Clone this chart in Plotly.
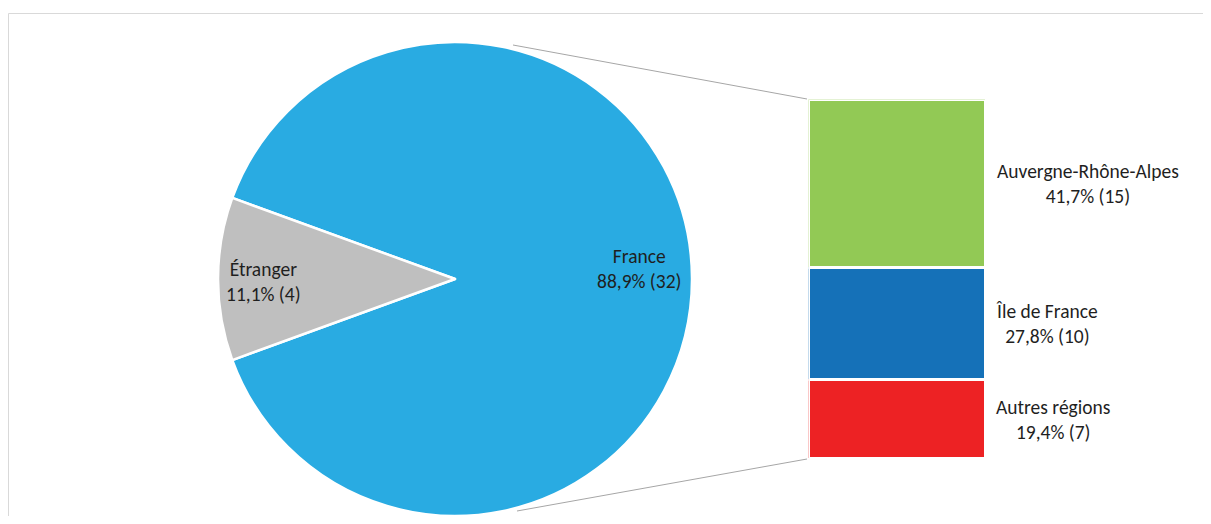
import plotly.graph_objects as go

# Data
pie_labels = ["France", "Étranger"]
pie_values = [32, 4]
region_labels = ["Autres régions", "Île de France", "Auvergne-Rhône-Alpes"]
region_values = [7, 10, 15]

pie_colors = ["#29ABE2", "#BFBFBF"]
region_colors = ["#ED2224", "#1571B8", "#92C955"]

OFF = 8  # default page body margin
W, H = 1211 - OFF, 524 - 2 * OFF
total = sum(pie_values)
FONT = "Carlito, Calibri, Lato, sans-serif"
FS = 19.5
TXT = "#1f1f1f"


def fmt(v):
    return f"{v / total * 100:.1f}".replace(".", ",") + f"% ({v})"


def px(x):
    return (x - OFF) / W


def py(y):
    return min(1.0, max(0.0, 1 - (y - OFF) / H))


fig = go.Figure()

# Pie (center 455,279, r 237)
cx, cy, r = 455, 279, 237
fig.add_trace(go.Pie(
    labels=pie_labels, values=pie_values, sort=False, direction="clockwise",
    rotation=290, textinfo="none", hoverinfo="label+value+percent",
    marker=dict(colors=pie_colors, line=dict(color="white", width=2.5)),
    domain=dict(x=[px(cx - r), px(cx + r)], y=[py(cy + r), py(cy - r)]),
    showlegend=False,
))

# Stacked bar
for lab, val, col in zip(region_labels, region_values, region_colors):
    fig.add_trace(go.Bar(
        x=[0], y=[val], name=lab, width=1,
        marker=dict(color=col, line=dict(color="white", width=2.5)),
        showlegend=False, hoverinfo="name+y",
    ))

bar_left, bar_right, bar_top, bar_bottom = 808.5, 985.5, 99.5, 458.5
fig.update_layout(
    width=W, height=H, margin=dict(l=0, r=0, t=0, b=0),
    paper_bgcolor="white", plot_bgcolor="rgba(0,0,0,0)",
    barmode="stack", bargap=0,
    xaxis=dict(domain=[px(bar_left), px(bar_right)], range=[-0.5, 0.5],
               visible=False, fixedrange=True),
    yaxis=dict(domain=[py(bar_bottom), py(bar_top)], range=[0, sum(region_values)],
               visible=False, fixedrange=True),
    font=dict(family=FONT, size=FS, color=TXT),
)

annotations = []
# Pie labels
pie_label_pos = [(639, 268), (263, 281)]
for lab, val, (x, y) in zip(pie_labels, pie_values, pie_label_pos):
    annotations.append(dict(
        x=px(x), y=py(y), xref="paper", yref="paper", showarrow=False,
        xanchor="center", yanchor="middle",
        text=f"{lab}<br>{fmt(val)}", align="center",
        font=dict(family=FONT, size=FS, color=TXT),
    ))

# Bar labels
label_x = [1053, 1047, 1088]
cum = 0
for lab, val, lx in zip(region_labels, region_values, label_x):
    mid = cum + val / 2
    cum += val
    annotations.append(dict(
        x=px(lx), y=mid, xref="paper", yref="y", showarrow=False,
        xanchor="center", yanchor="middle",
        text=f"{lab}<br>{fmt(val)}", align="center",
        font=dict(family=FONT, size=FS, color=TXT),
    ))
fig.update_layout(annotations=annotations)

shapes = [
    dict(type="rect", xref="paper", yref="paper", x0=px(8.5), y0=-0.1, x1=1.1, y1=py(13.5),
         line=dict(color="#D9D9D9", width=1), fillcolor="rgba(0,0,0,0)", layer="below"),
    dict(type="line", xref="paper", yref="paper", x0=px(513), y0=py(45), x1=px(807), y1=py(99),
         line=dict(color="#A6A6A6", width=1)),
    dict(type="line", xref="paper", yref="paper", x0=px(517), y0=py(511), x1=px(807), y1=py(459),
         line=dict(color="#A6A6A6", width=1)),
]
fig.update_layout(shapes=shapes)

fig.write_html("out.html")
